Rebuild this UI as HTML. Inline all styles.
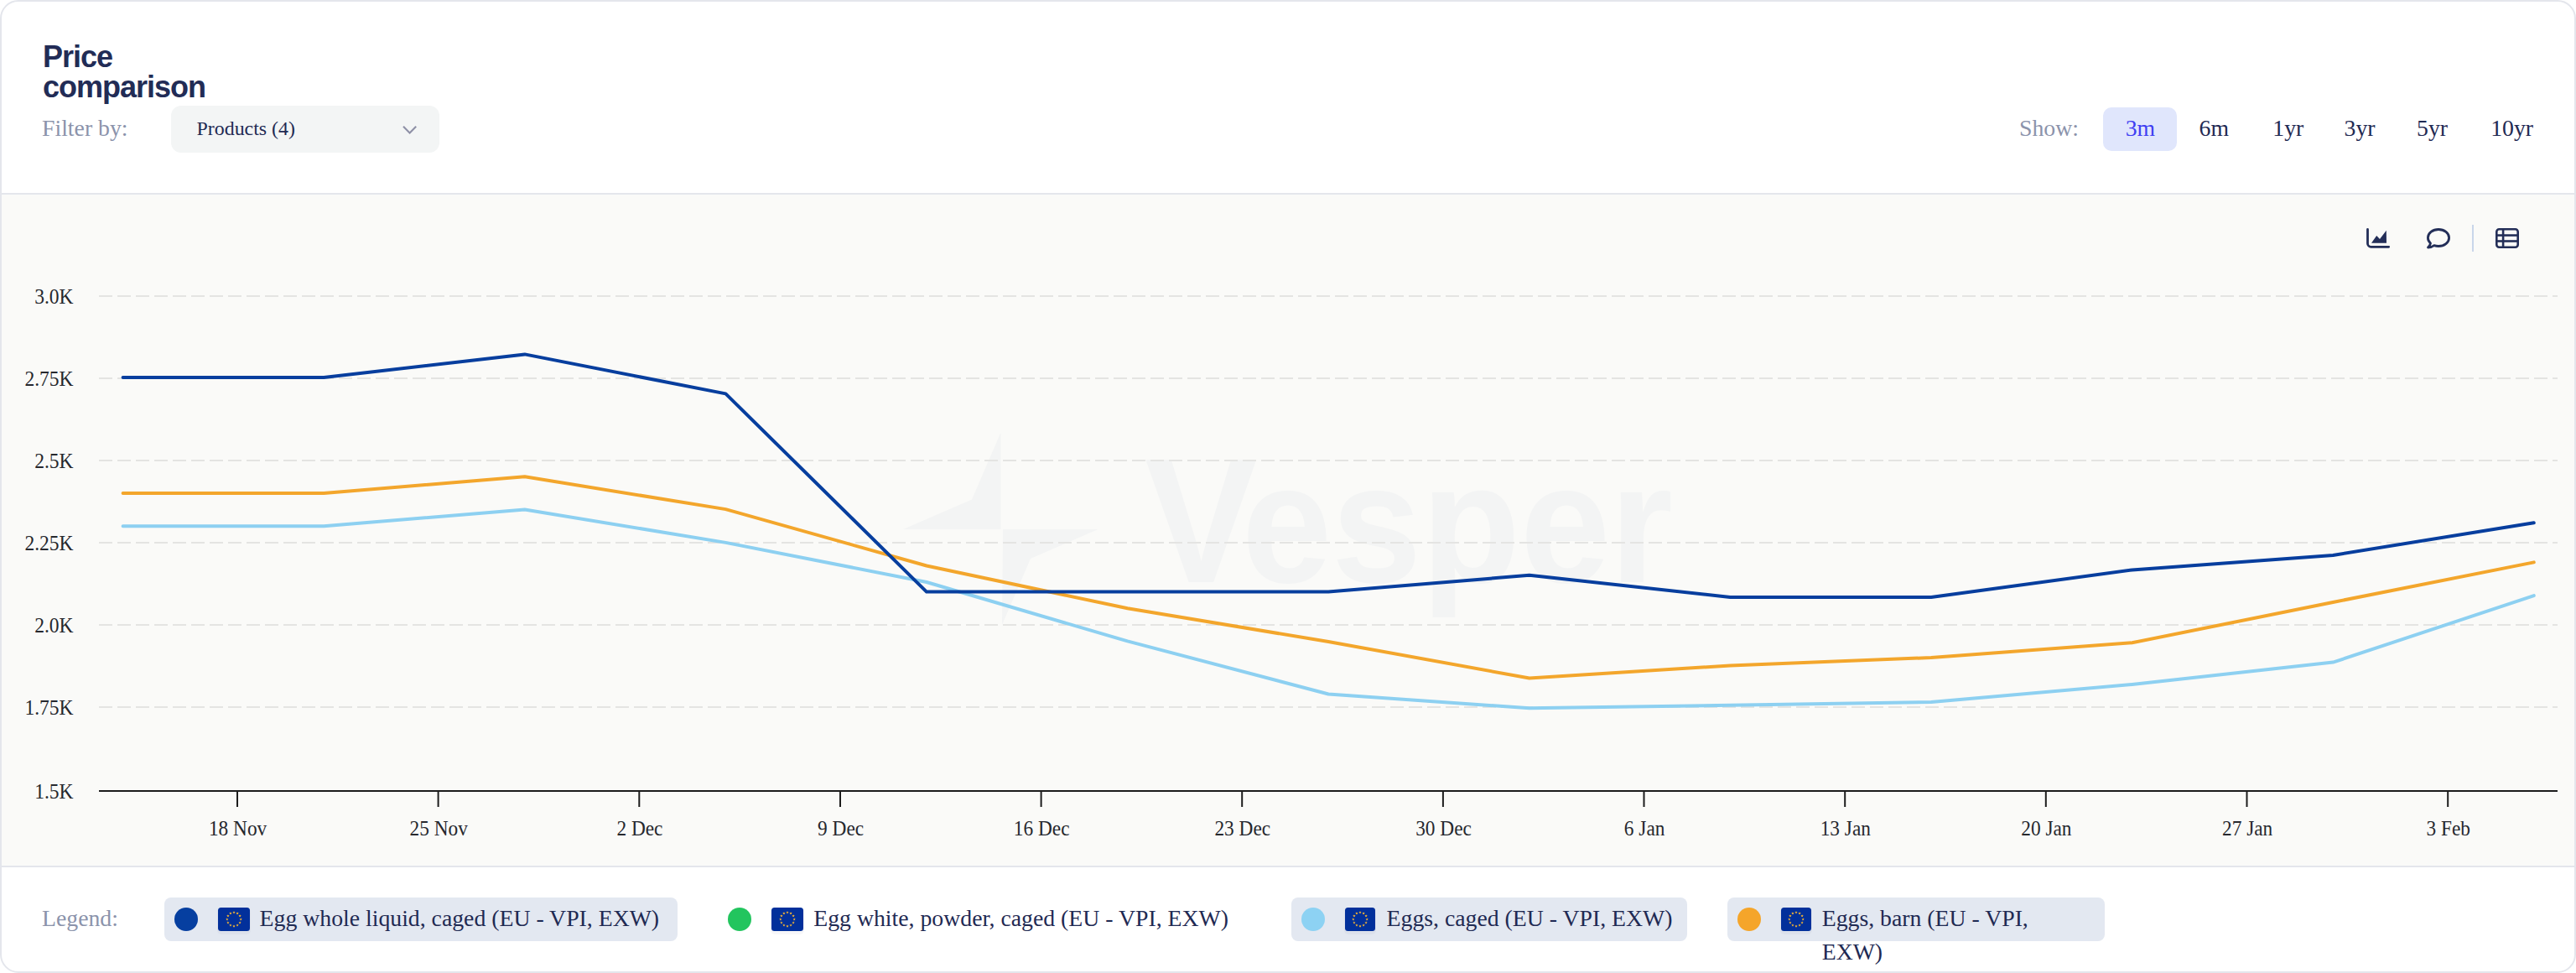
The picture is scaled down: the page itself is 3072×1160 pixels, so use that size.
<!DOCTYPE html>
<html lang="en">
<head>
<meta charset="utf-8">
<title>Price comparison</title>
<style>
*{box-sizing:border-box;margin:0;padding:0}
html,body{width:3072px;height:1160px;overflow:hidden;background:#fff}
body{font-family:"Liberation Serif",serif;color:#1f2a53;position:relative}
.card{position:absolute;left:0;top:0;width:3072px;height:1160px;border:2px solid #e4e6ec;border-radius:22px;background:#fff;overflow:hidden}
.abs{position:absolute;white-space:nowrap;line-height:1}
.title{left:51px;top:49.5px;font-family:"Liberation Sans",sans-serif;font-weight:700;font-size:36px;line-height:36px;color:#222c56;white-space:normal;width:220px;letter-spacing:-1px}
.muted{color:#8b93ab}
.f27{font-size:27.75px}
.dropdown{left:204px;top:126px;width:320px;height:56px;border-radius:12px;background:#f3f5f5}
.pill3m{left:2508px;top:128px;width:88px;height:52px;border-radius:10px;background:#e0e6fc}
.chartbg{left:2px;top:230px;width:3068px;height:804px;background:#fafaf8;border-top:2px solid #e4e6ec;border-bottom:2px solid #e4e6ec}
.lpill{height:52px;top:1070px;border-radius:8px;background:#e3e8f1}
.dot{width:28px;height:28px;border-radius:50%;top:1082px}
.ltxt{font-size:27.75px;top:1081px;color:#1f2a53}
svg{position:absolute;left:0;top:0;overflow:visible}
svg text{font-family:"Liberation Serif",serif}
</style>
</head>
<body>
<div class="card"></div>

<!-- header -->
<div class="abs title">Price comparison</div>
<div class="abs muted f27" style="left:50px;top:138.6px">Filter by:</div>
<div class="abs dropdown"></div>
<div class="abs" style="left:234.5px;top:142.4px;font-size:23.9px">Products (4)</div>
<div class="abs muted f27" style="left:2408px;top:138.6px">Show:</div>
<div class="abs pill3m"></div>
<div class="abs f27" style="left:2534.7px;top:138.6px;color:#3f3ff2">3m</div>
<div class="abs f27" style="left:2622.6px;top:138.6px">6m</div>
<div class="abs f27" style="left:2710.3px;top:138.6px">1yr</div>
<div class="abs f27" style="left:2795.6px;top:138.6px">3yr</div>
<div class="abs f27" style="left:2882px;top:138.6px">5yr</div>
<div class="abs f27" style="left:2970.2px;top:138.6px">10yr</div>

<!-- chart background -->
<div class="abs chartbg"></div>

<!-- legend -->
<div class="abs muted f27" style="left:50px;top:1080.6px">Legend:</div>
<div class="abs lpill" style="left:196px;width:612px"></div>
<div class="abs lpill" style="left:1540px;width:471.5px"></div>
<div class="abs lpill" style="left:2060px;width:450px"></div>
<div class="abs dot" style="left:208px;background:#063fa0"></div>
<div class="abs dot" style="left:868px;background:#22c55e"></div>
<div class="abs dot" style="left:1552px;background:#8dd2f3"></div>
<div class="abs dot" style="left:2072px;background:#f5a52a"></div>
<div class="abs ltxt" style="left:309.6px">Egg whole liquid, caged (EU - VPI, EXW)</div>
<div class="abs ltxt" style="left:970.3px">Egg white, powder, caged (EU - VPI, EXW)</div>
<div class="abs ltxt" style="left:1653.6px">Eggs, caged (EU - VPI, EXW)</div>
<div class="abs ltxt" style="left:2172.7px;white-space:normal;width:300px;line-height:40px;top:1075px">Eggs, barn (EU - VPI, EXW)</div>

<svg id="chart" width="3072" height="1160" viewBox="0 0 3072 1160" >
<g fill="#f3f4f4"><polygon points="1193.5,515.5 1193.5,631 1077,631 1159,595.5"/><polygon points="1196,631 1309.5,631 1229,666 1195,745"/><text y="693.5" font-weight="700" style="font-family:'Liberation Sans',sans-serif"><tspan x="1365" font-size="211" textLength="134.5" lengthAdjust="spacingAndGlyphs">V</tspan><tspan x="1481" font-size="201.5" textLength="514" lengthAdjust="spacingAndGlyphs">esper</tspan></text></g>
<line x1="118" y1="353.00" x2="3050" y2="353.00" stroke="#e4e4e2" stroke-width="2" stroke-dasharray="16 6"/>
<line x1="118" y1="451.00" x2="3050" y2="451.00" stroke="#e4e4e2" stroke-width="2" stroke-dasharray="16 6"/>
<line x1="118" y1="549.00" x2="3050" y2="549.00" stroke="#e4e4e2" stroke-width="2" stroke-dasharray="16 6"/>
<line x1="118" y1="647.00" x2="3050" y2="647.00" stroke="#e4e4e2" stroke-width="2" stroke-dasharray="16 6"/>
<line x1="118" y1="745.00" x2="3050" y2="745.00" stroke="#e4e4e2" stroke-width="2" stroke-dasharray="16 6"/>
<line x1="118" y1="843.00" x2="3050" y2="843.00" stroke="#e4e4e2" stroke-width="2" stroke-dasharray="16 6"/>
<line x1="118" y1="943" x2="3050" y2="943" stroke="#1c1c1c" stroke-width="2"/>
<line x1="283.0" y1="943" x2="283.0" y2="962" stroke="#1c1c1c" stroke-width="2"/>
<text transform="translate(283.6 996) scale(0.96 1)" font-size="24.3" text-anchor="middle" fill="#26282e">18 Nov</text>
<line x1="522.6" y1="943" x2="522.6" y2="962" stroke="#1c1c1c" stroke-width="2"/>
<text transform="translate(523.2 996) scale(0.96 1)" font-size="24.3" text-anchor="middle" fill="#26282e">25 Nov</text>
<line x1="762.3" y1="943" x2="762.3" y2="962" stroke="#1c1c1c" stroke-width="2"/>
<text transform="translate(762.9 996) scale(0.96 1)" font-size="24.3" text-anchor="middle" fill="#26282e">2 Dec</text>
<line x1="1002.0" y1="943" x2="1002.0" y2="962" stroke="#1c1c1c" stroke-width="2"/>
<text transform="translate(1002.6 996) scale(0.96 1)" font-size="24.3" text-anchor="middle" fill="#26282e">9 Dec</text>
<line x1="1241.6" y1="943" x2="1241.6" y2="962" stroke="#1c1c1c" stroke-width="2"/>
<text transform="translate(1242.2 996) scale(0.96 1)" font-size="24.3" text-anchor="middle" fill="#26282e">16 Dec</text>
<line x1="1481.2" y1="943" x2="1481.2" y2="962" stroke="#1c1c1c" stroke-width="2"/>
<text transform="translate(1481.8 996) scale(0.96 1)" font-size="24.3" text-anchor="middle" fill="#26282e">23 Dec</text>
<line x1="1720.9" y1="943" x2="1720.9" y2="962" stroke="#1c1c1c" stroke-width="2"/>
<text transform="translate(1721.5 996) scale(0.96 1)" font-size="24.3" text-anchor="middle" fill="#26282e">30 Dec</text>
<line x1="1960.5" y1="943" x2="1960.5" y2="962" stroke="#1c1c1c" stroke-width="2"/>
<text transform="translate(1961.1 996) scale(0.96 1)" font-size="24.3" text-anchor="middle" fill="#26282e">6 Jan</text>
<line x1="2200.2" y1="943" x2="2200.2" y2="962" stroke="#1c1c1c" stroke-width="2"/>
<text transform="translate(2200.8 996) scale(0.96 1)" font-size="24.3" text-anchor="middle" fill="#26282e">13 Jan</text>
<line x1="2439.8" y1="943" x2="2439.8" y2="962" stroke="#1c1c1c" stroke-width="2"/>
<text transform="translate(2440.4 996) scale(0.96 1)" font-size="24.3" text-anchor="middle" fill="#26282e">20 Jan</text>
<line x1="2679.5" y1="943" x2="2679.5" y2="962" stroke="#1c1c1c" stroke-width="2"/>
<text transform="translate(2680.1 996) scale(0.96 1)" font-size="24.3" text-anchor="middle" fill="#26282e">27 Jan</text>
<line x1="2919.2" y1="943" x2="2919.2" y2="962" stroke="#1c1c1c" stroke-width="2"/>
<text transform="translate(2919.8 996) scale(0.96 1)" font-size="24.3" text-anchor="middle" fill="#26282e">3 Feb</text>
<text transform="translate(87.5 361.8) scale(0.96 1)" font-size="24.5" text-anchor="end" fill="#26282e">3.0K</text>
<text transform="translate(87.5 459.8) scale(0.96 1)" font-size="24.5" text-anchor="end" fill="#26282e">2.75K</text>
<text transform="translate(87.5 557.8) scale(0.96 1)" font-size="24.5" text-anchor="end" fill="#26282e">2.5K</text>
<text transform="translate(87.5 655.8) scale(0.96 1)" font-size="24.5" text-anchor="end" fill="#26282e">2.25K</text>
<text transform="translate(87.5 753.8) scale(0.96 1)" font-size="24.5" text-anchor="end" fill="#26282e">2.0K</text>
<text transform="translate(87.5 851.8) scale(0.96 1)" font-size="24.5" text-anchor="end" fill="#26282e">1.75K</text>
<text transform="translate(87.5 951.8) scale(0.96 1)" font-size="24.5" text-anchor="end" fill="#26282e">1.5K</text>
<polyline points="146.6,627.3 386.2,627.3 625.8,607.5 865.4,646.9 1105.0,694.0 1344.6,764.4 1584.2,827.5 1823.8,844.2 2063.4,840.7 2303.0,837.1 2542.6,816.0 2782.2,789.6 3021.8,710.1" fill="none" stroke="#8dd0f1" stroke-width="4" stroke-linecap="round" stroke-linejoin="round"/>
<polyline points="146.6,588.0 386.2,588.0 625.8,568.3 865.4,607.1 1105.0,674.5 1344.6,725.3 1584.2,765.0 1823.8,808.5 2063.4,793.5 2303.0,784.0 2542.6,766.3 2782.2,718.0 3021.8,670.4" fill="none" stroke="#f3a62c" stroke-width="4" stroke-linecap="round" stroke-linejoin="round"/>
<polyline points="146.6,450.0 386.2,450.0 625.8,422.4 865.4,469.4 1105.0,705.6 1344.6,705.6 1584.2,705.6 1823.8,685.8 2063.4,712.0 2303.0,712.0 2542.6,679.4 2782.2,662.0 3021.8,623.2" fill="none" stroke="#073e9e" stroke-width="4" stroke-linecap="round" stroke-linejoin="round"/>
<path d="M2823.5 273.5 V290.3 a4 4 0 0 0 4 4 H2848.7" fill="none" stroke="#232e58" stroke-width="2.8" stroke-linecap="round" stroke-linejoin="round"/><path d="M2828 289.8 L2834.2 281 L2838 285.1 L2845.8 274.8 L2846 289.8 Z" fill="#232e58"/>
<path d="M2908 273.5 c7 0 12.6 4.5 12.6 10 s-5.6 10 -12.6 10 c-1.800 0 -3.600 -0.300 -5.200 -0.900 c-1.800 1.300 -4.500 2.500 -7.300 2.500 c1.600 -1.500 2.700 -3.400 3.000 -5.100 c-2.000 -1.800 -3.100 -4.000 -3.100 -6.500 c0 -5.500 5.600 -10 12.600 -10 z" fill="none" stroke="#232e58" stroke-width="2.8" stroke-linejoin="round"/>
<line x1="2949" y1="268" x2="2949" y2="300" stroke="#c9d6ea" stroke-width="2"/>
<g fill="none" stroke="#232e58" stroke-width="2.600"><rect x="2977.300" y="273.300" width="25.400" height="21.400" rx="3"/><line x1="2977.300" y1="280.550" x2="3002.700" y2="280.550"/><line x1="2977.300" y1="287.500" x2="3002.700" y2="287.500"/><line x1="2985.100" y1="273.300" x2="2985.100" y2="294.700"/></g>
<path d="M481 150.800 L488.600 158.400 L496.200 150.800" fill="none" stroke="#8e90a6" stroke-width="2.100" stroke-linecap="butt" stroke-linejoin="miter"/>
<g><rect x="259" y="1083" width="40" height="31" rx="5" fill="#5a6b8c" opacity="0.05"/><rect x="260" y="1082" width="38" height="28" rx="3.5" fill="#02309b"/><polygon points="279.00,1086.05 279.43,1087.21 280.66,1087.26 279.70,1088.03 280.03,1089.22 279.00,1088.53 277.97,1089.22 278.30,1088.03 277.34,1087.26 278.57,1087.21" fill="#fbb830"/><polygon points="283.10,1087.15 283.53,1088.30 284.76,1088.36 283.80,1089.13 284.13,1090.31 283.10,1089.63 282.07,1090.31 282.40,1089.13 281.44,1088.36 282.67,1088.30" fill="#fbb830"/><polygon points="286.10,1090.15 286.53,1091.31 287.77,1091.36 286.80,1092.13 287.13,1093.32 286.10,1092.63 285.07,1093.32 285.40,1092.13 284.44,1091.36 285.67,1091.31" fill="#fbb830"/><polygon points="287.20,1094.25 287.63,1095.41 288.86,1095.46 287.90,1096.23 288.23,1097.42 287.20,1096.73 286.17,1097.42 286.50,1096.23 285.54,1095.46 286.77,1095.41" fill="#fbb830"/><polygon points="286.10,1098.35 286.53,1099.51 287.77,1099.56 286.80,1100.33 287.13,1101.52 286.10,1100.83 285.07,1101.52 285.40,1100.33 284.44,1099.56 285.67,1099.51" fill="#fbb830"/><polygon points="283.10,1101.35 283.53,1102.51 284.76,1102.56 283.80,1103.33 284.13,1104.52 283.10,1103.84 282.07,1104.52 282.40,1103.33 281.44,1102.56 282.67,1102.51" fill="#fbb830"/><polygon points="279.00,1102.45 279.43,1103.61 280.66,1103.66 279.70,1104.43 280.03,1105.62 279.00,1104.93 277.97,1105.62 278.30,1104.43 277.34,1103.66 278.57,1103.61" fill="#fbb830"/><polygon points="274.90,1101.35 275.33,1102.51 276.56,1102.56 275.60,1103.33 275.93,1104.52 274.90,1103.84 273.87,1104.52 274.20,1103.33 273.24,1102.56 274.47,1102.51" fill="#fbb830"/><polygon points="271.90,1098.35 272.33,1099.51 273.56,1099.56 272.60,1100.33 272.93,1101.52 271.90,1100.83 270.87,1101.52 271.20,1100.33 270.23,1099.56 271.47,1099.51" fill="#fbb830"/><polygon points="270.80,1094.25 271.23,1095.41 272.46,1095.46 271.50,1096.23 271.83,1097.42 270.80,1096.73 269.77,1097.42 270.10,1096.23 269.14,1095.46 270.37,1095.41" fill="#fbb830"/><polygon points="271.90,1090.15 272.33,1091.31 273.56,1091.36 272.60,1092.13 272.93,1093.32 271.90,1092.63 270.87,1093.32 271.20,1092.13 270.23,1091.36 271.47,1091.31" fill="#fbb830"/><polygon points="274.90,1087.15 275.33,1088.30 276.56,1088.36 275.60,1089.13 275.93,1090.31 274.90,1089.63 273.87,1090.31 274.20,1089.13 273.24,1088.36 274.47,1088.30" fill="#fbb830"/></g>
<g><rect x="919" y="1083" width="40" height="31" rx="5" fill="#5a6b8c" opacity="0.05"/><rect x="920" y="1082" width="38" height="28" rx="3.5" fill="#02309b"/><polygon points="939.00,1086.05 939.43,1087.21 940.66,1087.26 939.70,1088.03 940.03,1089.22 939.00,1088.53 937.97,1089.22 938.30,1088.03 937.34,1087.26 938.57,1087.21" fill="#fbb830"/><polygon points="943.10,1087.15 943.53,1088.30 944.76,1088.36 943.80,1089.13 944.13,1090.31 943.10,1089.63 942.07,1090.31 942.40,1089.13 941.44,1088.36 942.67,1088.30" fill="#fbb830"/><polygon points="946.10,1090.15 946.53,1091.31 947.77,1091.36 946.80,1092.13 947.13,1093.32 946.10,1092.63 945.07,1093.32 945.40,1092.13 944.44,1091.36 945.67,1091.31" fill="#fbb830"/><polygon points="947.20,1094.25 947.63,1095.41 948.86,1095.46 947.90,1096.23 948.23,1097.42 947.20,1096.73 946.17,1097.42 946.50,1096.23 945.54,1095.46 946.77,1095.41" fill="#fbb830"/><polygon points="946.10,1098.35 946.53,1099.51 947.77,1099.56 946.80,1100.33 947.13,1101.52 946.10,1100.83 945.07,1101.52 945.40,1100.33 944.44,1099.56 945.67,1099.51" fill="#fbb830"/><polygon points="943.10,1101.35 943.53,1102.51 944.76,1102.56 943.80,1103.33 944.13,1104.52 943.10,1103.84 942.07,1104.52 942.40,1103.33 941.44,1102.56 942.67,1102.51" fill="#fbb830"/><polygon points="939.00,1102.45 939.43,1103.61 940.66,1103.66 939.70,1104.43 940.03,1105.62 939.00,1104.93 937.97,1105.62 938.30,1104.43 937.34,1103.66 938.57,1103.61" fill="#fbb830"/><polygon points="934.90,1101.35 935.33,1102.51 936.56,1102.56 935.60,1103.33 935.93,1104.52 934.90,1103.84 933.87,1104.52 934.20,1103.33 933.24,1102.56 934.47,1102.51" fill="#fbb830"/><polygon points="931.90,1098.35 932.33,1099.51 933.56,1099.56 932.60,1100.33 932.93,1101.52 931.90,1100.83 930.87,1101.52 931.20,1100.33 930.23,1099.56 931.47,1099.51" fill="#fbb830"/><polygon points="930.80,1094.25 931.23,1095.41 932.46,1095.46 931.50,1096.23 931.83,1097.42 930.80,1096.73 929.77,1097.42 930.10,1096.23 929.14,1095.46 930.37,1095.41" fill="#fbb830"/><polygon points="931.90,1090.15 932.33,1091.31 933.56,1091.36 932.60,1092.13 932.93,1093.32 931.90,1092.63 930.87,1093.32 931.20,1092.13 930.23,1091.36 931.47,1091.31" fill="#fbb830"/><polygon points="934.90,1087.15 935.33,1088.30 936.56,1088.36 935.60,1089.13 935.93,1090.31 934.90,1089.63 933.87,1090.31 934.20,1089.13 933.24,1088.36 934.47,1088.30" fill="#fbb830"/></g>
<g><rect x="1603" y="1083" width="38" height="31" rx="5" fill="#5a6b8c" opacity="0.05"/><rect x="1604" y="1082" width="36" height="28" rx="3.5" fill="#02309b"/><polygon points="1622.00,1086.05 1622.43,1087.21 1623.66,1087.26 1622.70,1088.03 1623.03,1089.22 1622.00,1088.53 1620.97,1089.22 1621.30,1088.03 1620.34,1087.26 1621.57,1087.21" fill="#fbb830"/><polygon points="1626.10,1087.15 1626.53,1088.30 1627.76,1088.36 1626.80,1089.13 1627.13,1090.31 1626.10,1089.63 1625.07,1090.31 1625.40,1089.13 1624.44,1088.36 1625.67,1088.30" fill="#fbb830"/><polygon points="1629.10,1090.15 1629.53,1091.31 1630.77,1091.36 1629.80,1092.13 1630.13,1093.32 1629.10,1092.63 1628.07,1093.32 1628.40,1092.13 1627.44,1091.36 1628.67,1091.31" fill="#fbb830"/><polygon points="1630.20,1094.25 1630.63,1095.41 1631.86,1095.46 1630.90,1096.23 1631.23,1097.42 1630.20,1096.73 1629.17,1097.42 1629.50,1096.23 1628.54,1095.46 1629.77,1095.41" fill="#fbb830"/><polygon points="1629.10,1098.35 1629.53,1099.51 1630.77,1099.56 1629.80,1100.33 1630.13,1101.52 1629.10,1100.83 1628.07,1101.52 1628.40,1100.33 1627.44,1099.56 1628.67,1099.51" fill="#fbb830"/><polygon points="1626.10,1101.35 1626.53,1102.51 1627.76,1102.56 1626.80,1103.33 1627.13,1104.52 1626.10,1103.84 1625.07,1104.52 1625.40,1103.33 1624.44,1102.56 1625.67,1102.51" fill="#fbb830"/><polygon points="1622.00,1102.45 1622.43,1103.61 1623.66,1103.66 1622.70,1104.43 1623.03,1105.62 1622.00,1104.93 1620.97,1105.62 1621.30,1104.43 1620.34,1103.66 1621.57,1103.61" fill="#fbb830"/><polygon points="1617.90,1101.35 1618.33,1102.51 1619.56,1102.56 1618.60,1103.33 1618.93,1104.52 1617.90,1103.84 1616.87,1104.52 1617.20,1103.33 1616.24,1102.56 1617.47,1102.51" fill="#fbb830"/><polygon points="1614.90,1098.35 1615.33,1099.51 1616.56,1099.56 1615.60,1100.33 1615.93,1101.52 1614.90,1100.83 1613.87,1101.52 1614.20,1100.33 1613.23,1099.56 1614.47,1099.51" fill="#fbb830"/><polygon points="1613.80,1094.25 1614.23,1095.41 1615.46,1095.46 1614.50,1096.23 1614.83,1097.42 1613.80,1096.73 1612.77,1097.42 1613.10,1096.23 1612.14,1095.46 1613.37,1095.41" fill="#fbb830"/><polygon points="1614.90,1090.15 1615.33,1091.31 1616.56,1091.36 1615.60,1092.13 1615.93,1093.32 1614.90,1092.63 1613.87,1093.32 1614.20,1092.13 1613.23,1091.36 1614.47,1091.31" fill="#fbb830"/><polygon points="1617.90,1087.15 1618.33,1088.30 1619.56,1088.36 1618.60,1089.13 1618.93,1090.31 1617.90,1089.63 1616.87,1090.31 1617.20,1089.13 1616.24,1088.36 1617.47,1088.30" fill="#fbb830"/></g>
<g><rect x="2123" y="1083" width="38" height="31" rx="5" fill="#5a6b8c" opacity="0.05"/><rect x="2124" y="1082" width="36" height="28" rx="3.5" fill="#02309b"/><polygon points="2142.00,1086.05 2142.43,1087.21 2143.66,1087.26 2142.70,1088.03 2143.03,1089.22 2142.00,1088.53 2140.97,1089.22 2141.30,1088.03 2140.34,1087.26 2141.57,1087.21" fill="#fbb830"/><polygon points="2146.10,1087.15 2146.53,1088.30 2147.76,1088.36 2146.80,1089.13 2147.13,1090.31 2146.10,1089.63 2145.07,1090.31 2145.40,1089.13 2144.44,1088.36 2145.67,1088.30" fill="#fbb830"/><polygon points="2149.10,1090.15 2149.53,1091.31 2150.77,1091.36 2149.80,1092.13 2150.13,1093.32 2149.10,1092.63 2148.07,1093.32 2148.40,1092.13 2147.44,1091.36 2148.67,1091.31" fill="#fbb830"/><polygon points="2150.20,1094.25 2150.63,1095.41 2151.86,1095.46 2150.90,1096.23 2151.23,1097.42 2150.20,1096.73 2149.17,1097.42 2149.50,1096.23 2148.54,1095.46 2149.77,1095.41" fill="#fbb830"/><polygon points="2149.10,1098.35 2149.53,1099.51 2150.77,1099.56 2149.80,1100.33 2150.13,1101.52 2149.10,1100.83 2148.07,1101.52 2148.40,1100.33 2147.44,1099.56 2148.67,1099.51" fill="#fbb830"/><polygon points="2146.10,1101.35 2146.53,1102.51 2147.76,1102.56 2146.80,1103.33 2147.13,1104.52 2146.10,1103.84 2145.07,1104.52 2145.40,1103.33 2144.44,1102.56 2145.67,1102.51" fill="#fbb830"/><polygon points="2142.00,1102.45 2142.43,1103.61 2143.66,1103.66 2142.70,1104.43 2143.03,1105.62 2142.00,1104.93 2140.97,1105.62 2141.30,1104.43 2140.34,1103.66 2141.57,1103.61" fill="#fbb830"/><polygon points="2137.90,1101.35 2138.33,1102.51 2139.56,1102.56 2138.60,1103.33 2138.93,1104.52 2137.90,1103.84 2136.87,1104.52 2137.20,1103.33 2136.24,1102.56 2137.47,1102.51" fill="#fbb830"/><polygon points="2134.90,1098.35 2135.33,1099.51 2136.56,1099.56 2135.60,1100.33 2135.93,1101.52 2134.90,1100.83 2133.87,1101.52 2134.20,1100.33 2133.23,1099.56 2134.47,1099.51" fill="#fbb830"/><polygon points="2133.80,1094.25 2134.23,1095.41 2135.46,1095.46 2134.50,1096.23 2134.83,1097.42 2133.80,1096.73 2132.77,1097.42 2133.10,1096.23 2132.14,1095.46 2133.37,1095.41" fill="#fbb830"/><polygon points="2134.90,1090.15 2135.33,1091.31 2136.56,1091.36 2135.60,1092.13 2135.93,1093.32 2134.90,1092.63 2133.87,1093.32 2134.20,1092.13 2133.23,1091.36 2134.47,1091.31" fill="#fbb830"/><polygon points="2137.90,1087.15 2138.33,1088.30 2139.56,1088.36 2138.60,1089.13 2138.93,1090.31 2137.90,1089.63 2136.87,1090.31 2137.20,1089.13 2136.24,1088.36 2137.47,1088.30" fill="#fbb830"/></g>
</svg>
</body>
</html>
